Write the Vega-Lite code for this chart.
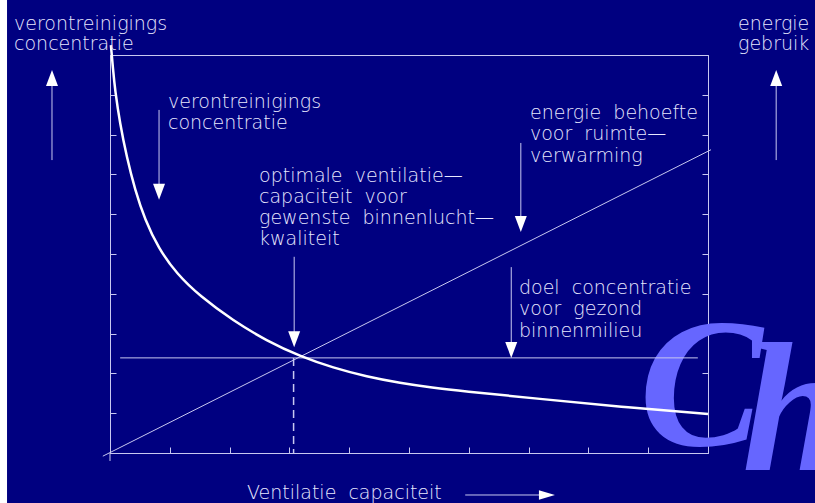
{
  "$schema": "https://vega.github.io/schema/vega-lite/v6.json",
  "width": 598,
  "height": 398,
  "autosize": "none",
  "padding": {"left": 110, "top": 55, "right": 107, "bottom": 50},
  "background": "#000080",
  "config": {
    "view": {"stroke": "#c8c8f0", "strokeWidth": 1},
    "axis": {"grid": false, "labels": false, "title": null, "tickSize": -6, "tickColor": "#c8c8f0", "tickWidth": 1, "domainColor": "#c8c8f0", "domainWidth": 1, "zindex": 1}
  },
  "datasets": {
    "curve": [
      {"x": 0.015, "y": 10.25}, {"x": 0.05, "y": 9.65}, {"x": 0.084, "y": 9.12}, {"x": 0.167, "y": 8.28}, {"x": 0.279, "y": 7.44},
      {"x": 0.418, "y": 6.61}, {"x": 0.585, "y": 5.86}, {"x": 0.808, "y": 5.15}, {"x": 1.115, "y": 4.5},
      {"x": 1.505, "y": 3.94}, {"x": 2.062, "y": 3.32}, {"x": 2.62, "y": 2.82}, {"x": 3.177, "y": 2.43},
      {"x": 3.734, "y": 2.14}, {"x": 4.293, "y": 1.92}, {"x": 4.849, "y": 1.76}, {"x": 5.406, "y": 1.64},
      {"x": 5.853, "y": 1.56}, {"x": 7.19, "y": 1.36}, {"x": 8.53, "y": 1.16}, {"x": 10.0, "y": 0.98}
    ],
    "segs": [
      {"x": -0.12, "y": -0.08, "x2": 10.05, "y2": 7.62},
      {"x": 0.17, "y": 2.39, "x2": 9.83, "y2": 2.39},
      {"x": 0, "y": 0, "x2": 0, "y2": -0.2},
      {"x": -0.97, "y": 7.36, "x2": -0.97, "y2": 9.3},
      {"x": 11.14, "y": 7.36, "x2": 11.14, "y2": 9.3},
      {"x": 0.82, "y": 8.62, "x2": 0.82, "y2": 6.6},
      {"x": 3.08, "y": 4.93, "x2": 3.08, "y2": 2.9},
      {"x": 6.87, "y": 7.79, "x2": 6.87, "y2": 5.8},
      {"x": 6.71, "y": 4.67, "x2": 6.71, "y2": 2.6},
      {"x": 5.94, "y": -1.055, "x2": 7.2, "y2": -1.055}
    ],
    "dashed": [{"x": 3.07, "y": 2.39, "x2": 3.07, "y2": 0}],
    "heads": [
      {"x": -0.97, "y": 9.62, "d": "up"},
      {"x": 11.14, "y": 9.62, "d": "up"},
      {"x": 0.82, "y": 6.36, "d": "down"},
      {"x": 3.08, "y": 2.66, "d": "down"},
      {"x": 6.87, "y": 5.55, "d": "down"},
      {"x": 6.71, "y": 2.39, "d": "down"},
      {"x": 7.44, "y": -1.055, "d": "right"}
    ],
    "labels": [
      {"x": -1.605, "y": 10.628, "t": "verontreinigings"},
      {"x": -1.605, "y": 10.126, "t": "concentratie"},
      {"x": 10.502, "y": 10.628, "t": "energie"},
      {"x": 10.502, "y": 10.126, "t": "gebruik"},
      {"x": 0.97, "y": 8.668, "t": "verontreinigings"},
      {"x": 0.97, "y": 8.141, "t": "concentratie"},
      {"x": 2.492, "y": 6.809, "t": "optimale\u00a0\u00a0ventilatie—"},
      {"x": 2.492, "y": 6.281, "t": "capaciteit\u00a0\u00a0voor"},
      {"x": 2.492, "y": 5.754, "t": "gewenste\u00a0\u00a0binnenlucht—"},
      {"x": 2.492, "y": 5.226, "t": "kwaliteit"},
      {"x": 7.023, "y": 8.392, "t": "energie\u00a0\u00a0behoefte"},
      {"x": 7.023, "y": 7.864, "t": "voor\u00a0\u00a0ruimte—"},
      {"x": 7.023, "y": 7.312, "t": "verwarming"},
      {"x": 6.839, "y": 3.995, "t": "doel\u00a0\u00a0concentratie"},
      {"x": 6.839, "y": 3.467, "t": "voor\u00a0\u00a0gezond"},
      {"x": 6.839, "y": 2.915, "t": "binnenmilieu"},
      {"x": 2.291, "y": -1.156, "t": "Ventilatie\u00a0\u00a0capaciteit"}
    ],
    "logo": [
      {"x": 8.85, "y": 0.2, "t": "C"},
      {"x": 10.57, "y": -0.427, "t": "h"}
    ]
  },
  "encoding": {
    "x": {"field": "x", "type": "quantitative", "scale": {"domain": [0, 10], "nice": false, "zero": false}, "axis": {"orient": "bottom", "values": [0,1,2,3,4,5,6,7,8,9,10]}},
    "y": {"field": "y", "type": "quantitative", "scale": {"domain": [0, 10], "nice": false, "zero": false}, "axis": null}
  },
  "layer": [
    {
      "data": {"values": [{"x": -3, "x2": -1.722, "y": -3, "y2": 13}]},
      "mark": {"type": "rect", "fill": "white", "clip": false},
      "encoding": {
        "x2": {"field": "x2"},
        "y": {"field": "y", "type": "quantitative", "scale": {"domain": [0, 10], "nice": false, "zero": false}, "axis": {"orient": "left", "values": [0,1,2,3,4,5,6,7,8,9,10]}},
        "y2": {"field": "y2"}
      }
    },
    {
      "data": {"name": "logo"},
      "mark": {"type": "text", "font": "Liberation Serif", "fontSize": 185, "fontWeight": "bold", "fontStyle": "italic", "fill": "#6666ff", "align": "left", "baseline": "alphabetic"},
      "encoding": {
        "y": {"field": "y", "type": "quantitative", "scale": {"domain": [0, 10], "nice": false, "zero": false}, "axis": {"orient": "right", "values": [0,1,2,3,4,5,6,7,8,9,10]}},
        "text": {"field": "t"}
      }
    },
    {
      "data": {"name": "segs"},
      "mark": {"type": "rule", "stroke": "#c8c8f0", "strokeWidth": 1},
      "encoding": {"x2": {"field": "x2"}, "y2": {"field": "y2"}}
    },
    {
      "data": {"name": "dashed"},
      "mark": {"type": "rule", "stroke": "#c8c8f0", "strokeWidth": 1.5, "strokeDash": [8, 5]},
      "encoding": {"x2": {"field": "x2"}, "y2": {"field": "y2"}}
    },
    {
      "data": {"name": "curve"},
      "mark": {"type": "line", "stroke": "white", "strokeWidth": 2.5, "interpolate": "basis"},
      "encoding": {}
    },
    {
      "data": {"name": "heads"},
      "mark": {"type": "point", "filled": true, "fill": "white", "opacity": 1, "size": 256, "strokeWidth": 0},
      "encoding": {
        "shape": {"field": "d", "type": "nominal", "legend": null, "scale": {"domain": ["up", "down", "right"], "range": ["M-0.75,2L0.75,2L0,0Z", "M-0.75,-2L0.75,-2L0,0Z", "M-2,-0.6L-2,0.6L0,0Z"]}}
      }
    },
    {
      "data": {"name": "labels"},
      "mark": {"type": "text", "font": "DejaVu Sans", "fontSize": 19, "fontWeight": 200, "fill": "#e8e8ff", "align": "left", "baseline": "alphabetic"},
      "encoding": {"text": {"field": "t"}}
    }
  ],
  "resolve": {"axis": {"y": "independent"}}
}
